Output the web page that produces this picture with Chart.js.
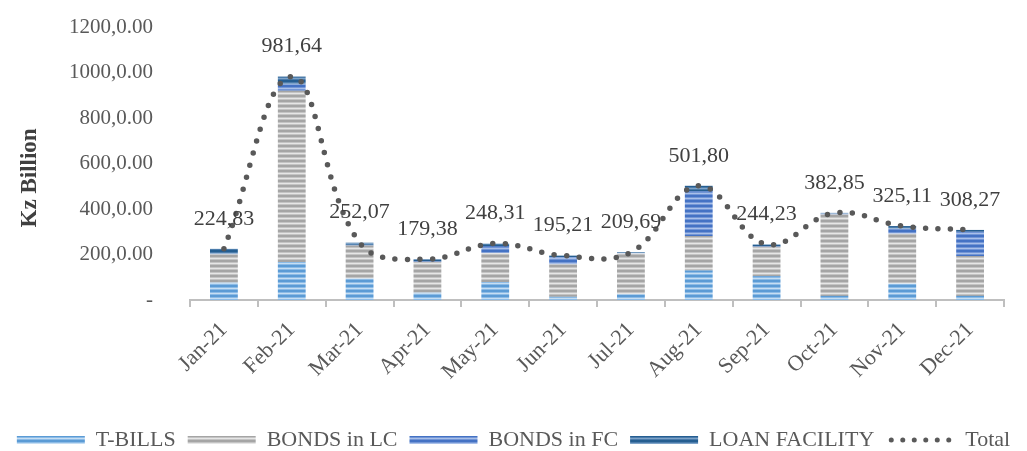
<!DOCTYPE html>
<html>
<head>
<meta charset="utf-8">
<script src="https://cdn.jsdelivr.net/npm/chart.js@4"></script>
<style>
  html, body { margin: 0; padding: 0; background: #fff; }
</style>
</head>
<body>
<canvas id="chart" width="1027" height="451"></canvas>
<script>
const months = ["Jan-21", "Feb-21", "Mar-21", "Apr-21", "May-21", "Jun-21", "Jul-21", "Aug-21", "Sep-21", "Oct-21", "Nov-21", "Dec-21"];
const tBills = [76, 167, 95, 32, 79, 14, 25, 130, 105, 18, 72, 18];
const bondsLC = [125, 753, 145, 136, 128, 143, 179, 151, 129, 358, 219, 175];
const bondsFC = [2, 28, 2, 3, 30, 31, 2, 197, 2, 3, 22, 107];
const loanFacility = [22, 34, 10, 8, 11, 7, 4, 24, 8, 4, 12, 8];
const totals = [224.83, 981.64, 252.07, 179.38, 248.31, 195.21, 209.69, 501.80, 244.23, 382.85, 325.11, 308.27];
const yTicks = [0, 200, 400, 600, 800, 1000, 1200];

const serif = "'Liberation Serif', 'DejaVu Serif', serif";
Chart.defaults.font.family = serif;

// horizontal striped fill like the excel texture
function stripes(rows) {
  const c = document.createElement("canvas");
  c.width = 1;
  c.height = rows.length;
  const g = c.getContext("2d");
  rows.forEach((col, i) => {
    g.fillStyle = col;
    g.fillRect(0, i, 1, 1);
  });
  return g.createPattern(c, "repeat");
}

const fillTB = stripes(["#5b9bd5", "#5b9bd5", "#8cbbe6", "#c6def3", "#8cbbe6"]);
const fillLC = stripes(["#a5a5a5", "#a5a5a5", "#c4c4c4", "#e6e6e6", "#c4c4c4"]);
const fillFC = stripes(["#4472c4", "#4472c4", "#7396d6", "#a9c0e9", "#7396d6"]);
const fillLoan = stripes(["#255e91", "#255e91", "#4b7cab", "#7ea3c8", "#4b7cab"]);

const dotColor = "#595959";

const totalLabels = {
  id: "totalLabels",
  afterDatasetsDraw(chart) {
    const idx = chart.data.datasets.findIndex(d => d.label === "Total");
    const meta = chart.getDatasetMeta(idx);
    const ctx = chart.ctx;
    ctx.save();
    ctx.font = "22px " + serif;
    ctx.fillStyle = "#404040";
    ctx.textAlign = "center";
    ctx.textBaseline = "middle";
    meta.data.forEach((pt, i) => {
      ctx.fillText(totals[i].toFixed(2).replace(".", ","), pt.x, pt.y - 30);
    });
    ctx.restore();
  },
  afterDraw(chart) {
    // dotted marker for the Total legend entry
    const legend = chart.legend;
    const i = legend.legendItems.findIndex(it => it.text === "Total");
    const box = legend.legendHitBoxes[i];
    if (!box) return;
    const ctx = chart.ctx;
    ctx.save();
    ctx.fillStyle = dotColor;
    const cy = box.top + box.height / 2;
    for (let k = 0; k < 6; k++) {
      ctx.beginPath();
      ctx.arc(box.left + 5 + k * 11.5, cy, 2.5, 0, Math.PI * 2);
      ctx.fill();
    }
    ctx.restore();
  }
};

new Chart(document.getElementById("chart"), {
  type: "bar",
  data: {
    labels: months,
    datasets: [
      { label: "T-BILLS", data: tBills, backgroundColor: fillTB, stack: "a", order: 1 },
      { label: "BONDS in LC", data: bondsLC, backgroundColor: fillLC, stack: "a", order: 1 },
      { label: "BONDS in FC", data: bondsFC, backgroundColor: fillFC, stack: "a", order: 1 },
      { label: "LOAN FACILITY", data: loanFacility, backgroundColor: fillLoan, stack: "a", order: 1 },
      {
        type: "line",
        label: "Total",
        data: totals,
        stack: "total",
        order: 0,
        borderColor: dotColor,
        backgroundColor: "rgba(0,0,0,0)",
        borderWidth: 5.5,
        borderDash: [0, 12.5],
        borderCapStyle: "round",
        tension: 0.4,
        pointRadius: 0,
        fill: false
      }
    ]
  },
  options: {
    responsive: false,
    animation: false,
    layout: { padding: { top: 27, right: 0, left: 0, bottom: -10 } },
    datasets: { bar: { categoryPercentage: 1, barPercentage: 0.41 } },
    plugins: {
      tooltip: { enabled: false },
      legend: {
        position: "bottom",
        labels: {
          boxWidth: 68,
          boxHeight: 8,
          padding: 12,
          color: "#595959",
          font: { size: 22 },
          sort: (a, b) => a.datasetIndex - b.datasetIndex,
          generateLabels(chart) {
            return chart.data.datasets.map((ds, i) => ({
              text: ds.label,
              datasetIndex: i,
              fillStyle: ds.type === "line" ? "rgba(0,0,0,0)" : ds.backgroundColor,
              strokeStyle: "rgba(0,0,0,0)",
              lineWidth: 0,
              fontColor: "#595959"
            }));
          }
        }
      }
    },
    scales: {
      x: {
        stacked: true,
        afterFit: s => {
          s.height = 117;
          s.paddingLeft = 0; s.paddingRight = 23; s.paddingTop = 0; s.paddingBottom = 0;
        },
        grid: { display: true, drawOnChartArea: false, offset: true, color: "#bfbfbf", lineWidth: 2, tickLength: 7 },
        border: { color: "#bfbfbf", width: 2 },
        ticks: { minRotation: 45, maxRotation: 45, color: "#595959", font: { size: 22 }, padding: 10 }
      },
      y: {
        stacked: true,
        min: 0,
        max: 1200,
        afterFit: s => {
          s.width = 190;
          s.paddingLeft = 0; s.paddingRight = 0; s.paddingTop = 0; s.paddingBottom = 0;
        },
        afterBuildTicks: s => { s.ticks = yTicks.map(v => ({ value: v })); },
        grid: { display: false, drawTicks: false },
        border: { display: false },
        ticks: {
          padding: 37,
          color: "#595959",
          font: { size: 21 },
          callback: v => v === 0 ? "-" : v + ",0.00"
        },
        title: {
          display: true,
          text: "Kz Billion\u00a0\u00a0\u00a0\u00a0\u00a0",
          color: "#404040",
          font: { size: 23, weight: "bold" },
          padding: { top: 16, bottom: 0 }
        }
      }
    }
  },
  plugins: [totalLabels]
});
</script>
</body>
</html>
